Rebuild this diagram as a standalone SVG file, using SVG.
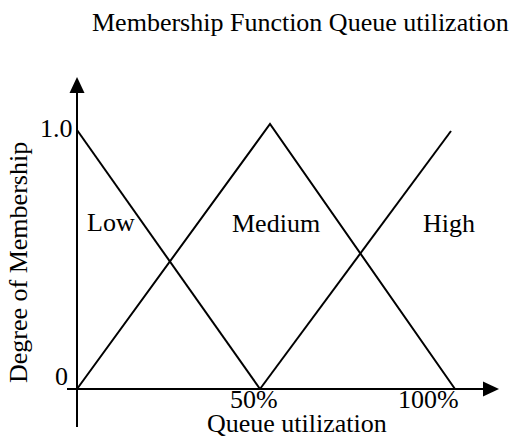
<svg xmlns="http://www.w3.org/2000/svg" width="514" height="439" viewBox="0 0 514 439">
  <style>
    text { font-family: "Liberation Serif", "Times New Roman", serif; font-size: 26px; fill: #000; }
    .axis { stroke: #000; stroke-width: 2; fill: none; }
    .mf { stroke: #000; stroke-width: 2; fill: none; stroke-linejoin: miter; }
  </style>
  <rect width="514" height="439" fill="#fff"/>

  <!-- title -->
  <text id="title" x="92" y="31">Membership Function Queue utilization</text>

  <!-- axes and membership functions -->
  <g id="connectors">
    <line class="axis" x1="77" y1="92" x2="77" y2="427"/>
    <polygon points="77,77 69.5,93 84.5,93" fill="#000"/>
    <line class="axis" x1="67" y1="389" x2="484" y2="389"/>
    <polygon points="499,389 483,381.5 483,396.5" fill="#000"/>

    <!-- Low -->
    <polyline class="mf" points="77,130 260,389"/>
    <!-- Medium -->
    <polyline class="mf" points="77,389 270,124 455,389"/>
    <!-- High -->
    <polyline class="mf" points="260,389 451,131"/>
  </g>

  <!-- axis labels -->
  <g id="y-label">
    <text transform="translate(27,383) rotate(-90)">Degree of Membership</text>
  </g>
  <g id="x-label">
    <text x="207" y="432">Queue utilization</text>
  </g>

  <!-- tick labels -->
  <g id="ticks">
    <text x="40" y="137">1.0</text>
    <text x="55" y="385">0</text>
    <text x="230" y="408">50%</text>
    <text x="398" y="408">100%</text>
  </g>

  <!-- set names -->
  <g id="low"><text x="87" y="231">Low</text></g>
  <g id="medium"><text x="232" y="232">Medium</text></g>
  <g id="high"><text x="423" y="232">High</text></g>
</svg>
